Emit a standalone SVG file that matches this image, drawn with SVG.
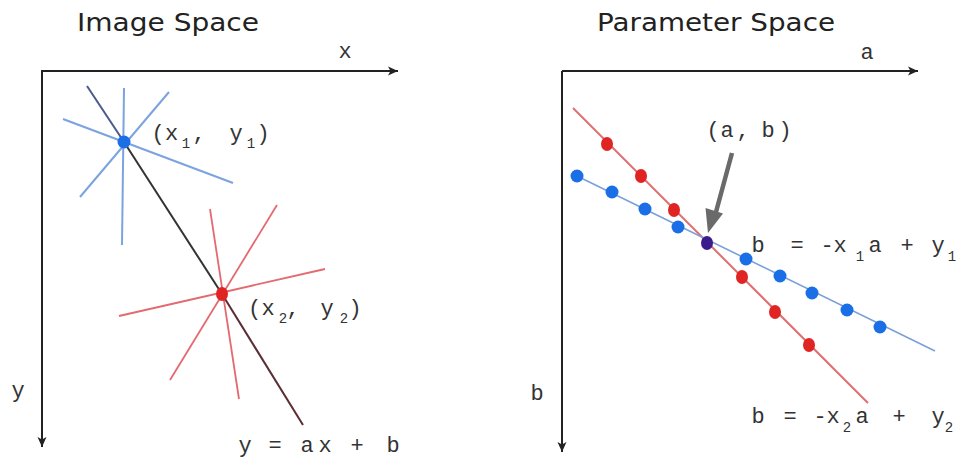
<svg xmlns="http://www.w3.org/2000/svg" width="957" height="462" viewBox="0 0 957 462">
<defs>
<marker id="ah" markerUnits="userSpaceOnUse" markerWidth="12" markerHeight="10" refX="10" refY="5" orient="auto">
<path d="M0,0.5 L10,5 L0,9.5 L2.5,5 z" fill="#222"/>
</marker>
<style>
.title{font-family:"DejaVu Sans","Liberation Sans",sans-serif;font-size:25px;fill:#222}
.m{font-family:"Liberation Mono","Courier New",monospace;font-size:22px;fill:#333;text-anchor:middle}
.s{font-size:14px}
.axis{stroke:#222;stroke-width:2;fill:none}
.bl{stroke:#7ba3e0;stroke-width:2}
.rl{stroke:#e36a70;stroke-width:1.8}
.bd{fill:#1a6fe6}
.rd{fill:#e02424}
</style>
</defs>
<rect width="957" height="462" fill="#fff"/>

<g id="image-space">
<text class="title" x="77" y="31" textLength="182" lengthAdjust="spacingAndGlyphs">Image Space</text>
<g id="axes-left">
<path class="axis" d="M41,71 L398,71" marker-end="url(#ah)"/>
<path class="axis" d="M42,71 L42,447" marker-end="url(#ah)"/>
<text class="m" x="345" y="58">x</text>
<text class="m" x="18" y="397">y</text>
</g>
<g id="lines-p1">
<line class="bl" x1="124" y1="88" x2="122" y2="245"/>
<line class="bl" x1="63" y1="119" x2="233" y2="183"/>
<line class="bl" x1="169" y1="92" x2="80" y2="197"/>
</g>
<g id="lines-p2">
<line class="rl" x1="210" y1="209" x2="239" y2="399"/>
<line class="rl" x1="277" y1="205" x2="170" y2="380"/>
<line class="rl" x1="325" y1="269" x2="119" y2="316"/>
</g>
<g id="line-ab">
<line x1="87" y1="86" x2="124" y2="142" stroke="#4a5a8a" stroke-width="2"/>
<line x1="124" y1="142" x2="222" y2="294" stroke="#333" stroke-width="2"/>
<line x1="222" y1="294" x2="303" y2="425" stroke="#5a2e34" stroke-width="2"/>
</g>
<g id="p1">
<circle class="bd" cx="124" cy="142" r="6.5"/>
<text class="m" y="140"><tspan x="158">(</tspan><tspan x="171.5">x</tspan><tspan x="199">,</tspan><tspan x="236">y</tspan><tspan x="263">)</tspan></text>
<text class="m s" y="148"><tspan x="186">1</tspan><tspan x="251">1</tspan></text>
</g>
<g id="p2">
<ellipse class="rd" cx="222" cy="294" rx="6" ry="7"/>
<text class="m" y="315"><tspan x="254.5">(</tspan><tspan x="268">x</tspan><tspan x="293">,</tspan><tspan x="327">y</tspan><tspan x="355">)</tspan></text>
<text class="m s" y="323"><tspan x="283">2</tspan><tspan x="344">2</tspan></text>
</g>
<text class="m" y="452"><tspan x="245">y</tspan><tspan x="275">=</tspan><tspan x="307">a</tspan><tspan x="325">x</tspan><tspan x="357">+</tspan><tspan x="393">b</tspan></text>
</g>

<g id="parameter-space">
<text class="title" x="597" y="31" textLength="238" lengthAdjust="spacingAndGlyphs">Parameter Space</text>
<g id="axes-right">
<path class="axis" d="M562,71 L918,71" marker-end="url(#ah)"/>
<path class="axis" d="M562,71 L562,452" marker-end="url(#ah)"/>
<text class="m" x="867" y="59">a</text>
<text class="m" x="537" y="400">b</text>
</g>
<g id="line-p2">
<line x1="573" y1="108" x2="868" y2="403" stroke="#e07070" stroke-width="2"/>
<ellipse class="rd" cx="607" cy="144" rx="6" ry="7"/>
<ellipse class="rd" cx="641" cy="176" rx="6" ry="7"/>
<ellipse class="rd" cx="674" cy="210" rx="6" ry="7"/>
<ellipse class="rd" cx="742" cy="277" rx="6" ry="7"/>
<ellipse class="rd" cx="775" cy="312" rx="6" ry="7"/>
<ellipse class="rd" cx="809" cy="345" rx="6" ry="7"/>
</g>
<g id="line-p1">
<line x1="577" y1="176" x2="935" y2="351" stroke="#7aa0da" stroke-width="1.6"/>
<circle class="bd" cx="577" cy="176" r="6.5"/>
<circle class="bd" cx="612" cy="192" r="6.5"/>
<circle class="bd" cx="645" cy="209" r="6.5"/>
<circle class="bd" cx="678" cy="227" r="6.5"/>
<circle class="bd" cx="746" cy="259" r="6.5"/>
<circle class="bd" cx="780" cy="276" r="6.5"/>
<circle class="bd" cx="812" cy="293" r="6.5"/>
<circle class="bd" cx="847" cy="310" r="6.5"/>
<circle class="bd" cx="880" cy="327" r="6.5"/>
</g>
<g id="intersection">
<ellipse cx="707" cy="243" rx="6" ry="7" fill="#3b1c8c"/>
<line x1="732" y1="153" x2="716" y2="212" stroke="#6a6a6a" stroke-width="4.5"/>
<polygon points="705.5,208 723,213.5 708,233" fill="#6a6a6a"/>
<text class="m" y="137"><tspan x="713">(</tspan><tspan x="727">a</tspan><tspan x="743">,</tspan><tspan x="768">b</tspan><tspan x="785">)</tspan></text>
</g>
<g id="eq1">
<text class="m" y="252"><tspan x="758">b</tspan><tspan x="797">=</tspan><tspan x="827">-</tspan><tspan x="840">x</tspan><tspan x="875">a</tspan><tspan x="907">+</tspan><tspan x="938">y</tspan></text>
<text class="m s" y="261"><tspan x="860">1</tspan><tspan x="952">1</tspan></text>
</g>
<g id="eq2">
<text class="m" y="423"><tspan x="758">b</tspan><tspan x="790">=</tspan><tspan x="820">-</tspan><tspan x="833">x</tspan><tspan x="862">a</tspan><tspan x="899">+</tspan><tspan x="938">y</tspan></text>
<text class="m s" y="432"><tspan x="847">2</tspan><tspan x="949">2</tspan></text>
</g>
</g>
</svg>
